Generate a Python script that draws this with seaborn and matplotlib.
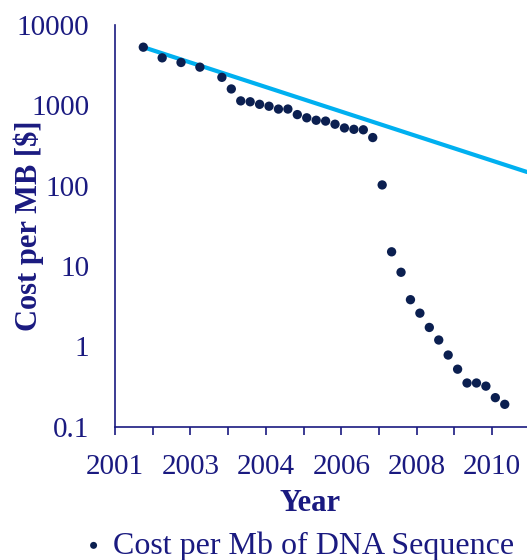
import matplotlib
matplotlib.use("Agg")
import matplotlib.pyplot as plt
import seaborn as sns
import pandas as pd
import numpy as np

# ---- data ----
dates = ["2001-09", "2002-03", "2002-09", "2003-03", "2003-10", "2004-01", "2004-04",
         "2004-07", "2004-10", "2005-01", "2005-04", "2005-07", "2005-10", "2006-01",
         "2006-04", "2006-07", "2006-10", "2007-01", "2007-04", "2007-07", "2007-10",
         "2008-01", "2008-04", "2008-07", "2008-10", "2009-01", "2009-04", "2009-07",
         "2009-10", "2010-01", "2010-04", "2010-07", "2010-10", "2011-01", "2011-04"]
cost = [5292.39, 3898.64, 3413.80, 2986.20, 2230.98, 1598.91, 1135.70, 1107.46,
        1028.85, 974.16, 897.76, 898.90, 766.73, 699.20, 651.81, 636.41, 581.92,
        522.71, 502.61, 495.96, 397.09, 102.13, 15.03, 8.36, 3.81, 2.59, 1.72,
        1.20, 0.78, 0.52, 0.35, 0.35, 0.32, 0.23, 0.19]
trend_years = [2001.667, 2011.84]
trend_cost = [5292.39, 148.0]
tick_labels = ["2001", "2003", "2004", "2006", "2008", "2010"]
legend_label = "Cost per Mb of DNA Sequence"

years = [int(d[:4]) + (int(d[5:]) - 1) / 12 for d in dates]
df = pd.DataFrame({"year": years, "cost": cost})
tr = pd.DataFrame({"year": trend_years, "cost": trend_cost})

# ---- style ----
sns.set_style("white")
plt.rcParams["font.family"] = ["Liberation Serif", "DejaVu Serif"]
TXT = "#1a1a80"
DOT = "#0b1f50"
LINE = "#00b0f0"

fig = plt.figure(figsize=(5.27, 5.6), dpi=100)
ax = fig.add_axes([0.2182, 0.238, 0.7818, 0.7174])

sns.lineplot(data=tr, x="year", y="cost", ax=ax, color=LINE, lw=3, legend=False)
sns.scatterplot(data=df, x="year", y="cost", ax=ax, color=DOT, s=45,
                edgecolor="none", label=legend_label, zorder=3)

ax.set_yscale("log")
ax.set_ylim(0.1, 10000)
x0 = 2000.916
ax.set_xlim(x0, 2011.84)
ax.set_yticks([0.1, 1, 10, 100, 1000, 10000])
ax.set_yticklabels(["0.1", "1", "10", "100", "1000", "10000"])
ax.yaxis.set_minor_locator(matplotlib.ticker.NullLocator())
ax.set_xticks([x0 + 2 * k for k in range(6)])
ax.set_xticklabels(tick_labels)
ax.set_xticks([x0 + 1 + 2 * k for k in range(5)], minor=True)

for s in ["top", "right"]:
    ax.spines[s].set_visible(False)
for s in ["left", "bottom"]:
    ax.spines[s].set_color(TXT)
    ax.spines[s].set_linewidth(1.2)

ax.tick_params(axis="both", which="both", direction="out", length=5.5, width=1.2,
               color=TXT, labelcolor=TXT, labelsize=21)
ax.tick_params(axis="y", pad=13)
ax.tick_params(axis="x", pad=14, bottom=True)
ax.tick_params(axis="x", which="minor", bottom=True)

ax.set_xlabel("Year", fontsize=22, fontweight="bold", color=TXT)
ax.set_ylabel("Cost per MB [$]", fontsize=22, fontweight="bold", color=TXT)
ax.xaxis.set_label_coords((310 - 115) / 412, -(489 - 426.7) / 401.7)
ax.yaxis.set_label_coords(-(115 - 44) / 412, 0.5)

leg = ax.legend(loc="center left", bbox_to_anchor=(84 / 527, 1 - 546 / 560),
                bbox_transform=fig.transFigure, frameon=False, fontsize=23,
                handlelength=0.6, handletextpad=0.3, markerscale=0.75,
                borderpad=0, borderaxespad=0)
for t in leg.get_texts():
    t.set_color(TXT)

fig.savefig("out.png", dpi=100)
